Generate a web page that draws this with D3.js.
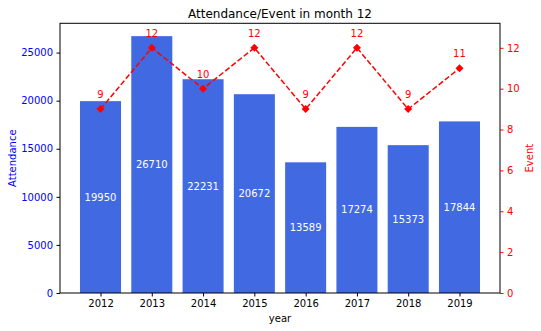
<!DOCTYPE html>
<html><head><meta charset="utf-8">
<script src="https://cdn.jsdelivr.net/npm/d3@7"></script>
<style>body{margin:0;background:#fff}text{font-family:"DejaVu Sans",sans-serif}</style>
</head><body><svg id="c" width="541" height="331"></svg>
<script>
const years = ["2012","2013","2014","2015","2016","2017","2018","2019"];
const attendance = [19950,26710,22231,20672,13589,17274,15373,17844];
const events = [9,12,10,12,9,12,9,11];
const leftTicks = [0,5000,10000,15000,20000,25000];
const rightTicks = [0,2,4,6,8,10,12];

const svg = d3.select("#c");
const L=60,R=500,T=23.3,B=293;
const x = d3.scaleLinear().domain([-0.79, years.length-1+0.79]).range([L,R]);
const yL = d3.scaleLinear().domain([0, d3.max(attendance)*1.05]).range([B,T]);
const yR = d3.scaleLinear().domain([0, d3.max(events)*1.1]).range([B,T]);
const bw = x(0.8)-x(0);

svg.selectAll("rect.bar").data(attendance).enter().append("rect")
  .attr("x",(d,i)=>x(i)-bw/2).attr("y",d=>yL(d)).attr("width",bw).attr("height",d=>B-yL(d))
  .attr("fill","#4169E1");
svg.selectAll("text.bl").data(attendance).enter().append("text")
  .attr("x",(d,i)=>x(i)).attr("y",d=>yL(d/2)).attr("dy","0.35em")
  .attr("text-anchor","middle").attr("fill","white").attr("font-size",10).text(d=>d);

const line = d3.line().x((d,i)=>x(i)).y(d=>yR(d));
svg.append("path").datum(events).attr("d",line).attr("fill","none")
  .attr("stroke","red").attr("stroke-width",1.5).attr("stroke-dasharray","5.5,2.4");
svg.selectAll("path.mk").data(events).enter().append("path")
  .attr("d",d3.symbol().type(d3.symbolSquare).size(32))
  .attr("transform",(d,i)=>`translate(${x(i)},${yR(d)}) rotate(45)`).attr("fill","red");
svg.selectAll("text.el").data(events).enter().append("text")
  .attr("x",(d,i)=>x(i)).attr("y",d=>yR(d)-11)
  .attr("text-anchor","middle").attr("fill","red").attr("font-size",10).text(d=>d);

// frame
svg.append("rect").attr("x",L).attr("y",T).attr("width",R-L).attr("height",B-T)
  .attr("fill","none").attr("stroke","black").attr("stroke-width",1);

// axes
const gx = svg.append("g").attr("transform",`translate(0,${B})`)
  .call(d3.axisBottom(x).tickValues(d3.range(years.length)).tickFormat(i=>years[i]).tickSize(3.5).tickPadding(3.5));
const gl = svg.append("g").attr("transform",`translate(${L},0)`)
  .call(d3.axisLeft(yL).tickValues(leftTicks).tickFormat(d=>d).tickSize(3.5).tickPadding(3.5));
const gr = svg.append("g").attr("transform",`translate(${R},0)`)
  .call(d3.axisRight(yR).tickValues(rightTicks).tickFormat(d=>d).tickSize(3.5).tickPadding(3.5));
[gx,gl,gr].forEach(g=>{g.select(".domain").remove();g.selectAll("text").attr("font-size",10).attr("font-family","DejaVu Sans");});
gx.selectAll("text").attr("fill","black");
gl.selectAll("text").attr("fill","blue");
gl.selectAll("line").attr("stroke","black");
gr.selectAll("text").attr("fill","red");
gr.selectAll("line").attr("stroke","red");

svg.append("text").attr("x",(L+R)/2).attr("y",18).attr("text-anchor","middle").attr("font-size",12).text("Attendance/Event in month 12");
svg.append("text").attr("x",(L+R)/2).attr("y",322).attr("text-anchor","middle").attr("font-size",10).text("year");
svg.append("text").attr("transform",`translate(15.5,${(T+B)/2}) rotate(-90)`).attr("text-anchor","middle").attr("fill","blue").attr("font-size",10).text("Attendance");
svg.append("text").attr("transform",`translate(533,${(T+B)/2}) rotate(-90)`).attr("text-anchor","middle").attr("fill","red").attr("font-size",10).text("Event");
</script></body></html>
